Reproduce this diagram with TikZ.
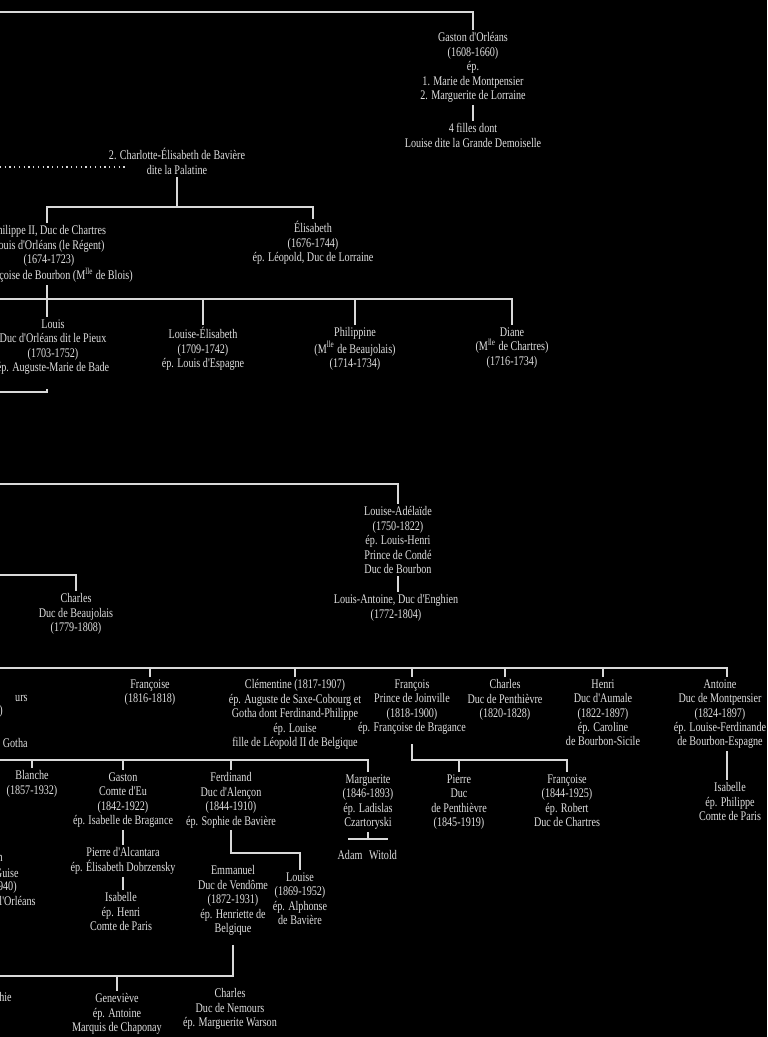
\documentclass[tikz,border=0pt]{standalone}
\usepackage{fontspec}
\newfontfamily\chartfont[FakeStretch=0.77]{Liberation Serif}

\begin{document}
\begin{tikzpicture}[x=0.02cm, y=-0.02cm,
    person/.style={anchor=north, align=center, inner sep=0pt, outer sep=1.5pt,
      text=white!88!black, font=\chartfont\fontsize{7.5}{8.2}\selectfont},
    frag/.style={anchor=east, inner sep=0pt, text=white!88!black,
      font=\chartfont\fontsize{7.5}{8.2}\selectfont},
    link/.style={draw=white!85!black, line width=0.85pt},
    wed/.style={draw=white!85!black, line width=0.7pt, dotted}]
  \useasboundingbox (0,0) rectangle (767,1037);
  \fill[black] (0,0) rectangle (767,1037);

  % Gaston
  \node[person] (gaston) at (473,30) {Gaston d'Orléans\\(1608-1660)\\ép.\\1. Marie de Montpensier\\2. Marguerite de Lorraine};
  \node[person] (filles) at (473,121) {4 filles dont\\Louise dite la Grande Demoiselle};

  % Charlotte-Elisabeth and her children
  \node[person] (charlotte) at (177,146) {2. Charlotte-Élisabeth de Bavière\\dite la Palatine};
  \node[person] (philippe) at (49,223) {\phantom{P}hilippe II, Duc de Chartres\\\phantom{p}ouis d'Orléans (le Régent)\\(1674-1723)\\\phantom{ép. Fran}çoise de Bourbon (M\textsuperscript{lle} de Blois)};
  \node[person] (elisabeth) at (313,219) {Élisabeth\\(1676-1744)\\ép. Léopold, Duc de Lorraine};

  % children of the Regent
  \node[person] (louis) at (53,317) {Louis\\Duc d'Orléans dit le Pieux\\(1703-1752)\\ép. Auguste-Marie de Bade};
  \node[person] (louiseelis) at (203,325) {Louise-Élisabeth\\(1709-1742)\\ép. Louis d'Espagne};
  \node[person] (philippine) at (355,325) {Philippine\\(M\textsuperscript{lle} de Beaujolais)\\(1714-1734)};
  \node[person] (diane) at (512,325) {Diane\\(M\textsuperscript{lle} de Chartres)\\(1716-1734)};

  % Louise-Adelaide, Charles
  \node[person] (louiseadel) at (398,504) {Louise-Adélaïde\\(1750-1822)\\ép. Louis-Henri\\Prince de Condé\\Duc de Bourbon};
  \node[person] (enghien) at (396,592) {Louis-Antoine, Duc d'Enghien\\(1772-1804)};
  \node[person] (charlesb) at (76,591) {Charles\\Duc de Beaujolais\\(1779-1808)};

  % children of Louis-Philippe
  \node[frag] (nemours1) at (28,698) {urs};
  \node[frag] (nemours2) at (3,711) {)};
  \node[frag] (nemours3) at (28,743) {t Gotha};
  \node[person] (francoise1) at (150,677) {Françoise\\(1816-1818)};
  \node[person] (clementine) at (295,677) {Clémentine (1817-1907)\\ép. Auguste de Saxe-Cobourg et\\Gotha dont Ferdinand-Philippe\\ép. Louise\\fille de Léopold II de Belgique};
  \node[person] (francois) at (412,677) {François\\Prince de Joinville\\(1818-1900)\\ép. Françoise de Bragance};
  \node[person] (charlesp) at (505,677) {Charles\\Duc de Penthièvre\\(1820-1828)};
  \node[person] (henri) at (603,677) {Henri\\Duc d'Aumale\\(1822-1897)\\ép. Caroline\\de Bourbon-Sicile};
  \node[person] (antoine) at (720,677) {Antoine\\Duc de Montpensier\\(1824-1897)\\ép. Louise-Ferdinande\\de Bourbon-Espagne};

  % grandchildren
  \node[person] (blanche) at (32,768) {Blanche\\(1857-1932)};
  \node[person] (gastoneu) at (123,770) {Gaston\\Comte d'Eu\\(1842-1922)\\ép. Isabelle de Bragance};
  \node[person] (pierrea) at (123,845) {Pierre d'Alcantara\\ép. Élisabeth Dobrzensky};
  \node[person] (isabelleh) at (121,890) {Isabelle\\ép. Henri\\Comte de Paris};
  \node[person] (ferdinand) at (231,770) {Ferdinand\\Duc d'Alençon\\(1844-1910)\\ép. Sophie de Bavière};
  \node[person] (emmanuel) at (233,863) {Emmanuel\\Duc de Vendôme\\(1872-1931)\\ép. Henriette de\\Belgique};
  \node[person] (louiseb) at (300,870) {Louise\\(1869-1952)\\ép. Alphonse\\de Bavière};
  \node[person] (marguerite) at (368,772) {Marguerite\\(1846-1893)\\ép. Ladislas\\Czartoryski};
  \node[person] (adam) at (350,848) {Adam};
  \node[person] (witold) at (383,848) {Witold};
  \node[person] (pierrep) at (459,772) {Pierre\\Duc\\de Penthièvre\\(1845-1919)};
  \node[person] (francoise2) at (567,772) {Françoise\\(1844-1925)\\ép. Robert\\Duc de Chartres};
  \node[person] (isabellep) at (730,780) {Isabelle\\ép. Philippe\\Comte de Paris};
  \node[frag] (guise1) at (3,858) {n};
  \node[frag] (guise2) at (19,873) {Guise};
  \node[frag] (guise3) at (17,887) {940)};
  \node[frag] (guise4) at (36,901) {l'Orléans};
  \node[frag] (sophie) at (12,997) {hie};
  \node[person] (genevieve) at (117,991) {Geneviève\\ép. Antoine\\Marquis de Chaponay};
  \node[person] (charlesn) at (230,986) {Charles\\Duc de Nemours\\ép. Marguerite Warson};

  % bus lines
  \coordinate (top) at (0,12);
  \coordinate (wed0) at (0,167);
  \coordinate (wed1) at (125,167);
  \coordinate (bus1) at (177,207);
  \coordinate (regent) at (47,0);
  \coordinate (bus2) at (0,299);
  \coordinate (louisleft) at (0,392);
  \coordinate (bus5) at (0,484);
  \coordinate (bus5b) at (0,575);
  \coordinate (bus6) at (0,668);
  \coordinate (montp) at (727,0);
  \coordinate (bus7) at (0,760);
  \coordinate (busf) at (412,760);
  \coordinate (ferdk) at (231,853);
  \coordinate (wife0) at (348,839);
  \coordinate (wife1) at (388,839);
  \coordinate (bus8) at (0,976);

  \draw[link] (top) -| (gaston.north);
  \draw[link] (gaston.south) -- (filles.north);
  \draw[wed] (wed0) -- (wed1);
  \draw[link] (charlotte.south) -- (bus1);
  \draw[link] (regent |- philippe.north) -- (regent |- bus1) -| (elisabeth.north);
  \draw[link] (regent |- philippe.south) -- (regent |- louis.north);
  \draw[link] (bus2) -| (diane.north);
  \foreach \n in {louiseelis, philippine}
    \draw[link] (\n.north) -- (\n.north |- bus2);
  \draw[link, shorten <=7pt] (regent |- louis.south) |- (louisleft);
  \draw[link] (bus5) -| (louiseadel.north);
  \draw[link] (louiseadel.south) -- (louiseadel.south |- enghien.north);
  \draw[link] (bus5b) -| (charlesb.north);
  \draw[link] (bus6) -| (montp |- antoine.north);
  \foreach \n in {francoise1, clementine, francois, charlesp, henri}
    \draw[link] (\n.north) -- (\n.north |- bus6);
  \draw[link] (bus7) -| (marguerite.north);
  \foreach \n in {blanche, gastoneu, ferdinand}
    \draw[link] (\n.north) -- (\n.north |- bus7);
  \draw[link] (gastoneu.south) -- (pierrea.north);
  \draw[link] (pierrea.south) -- (pierrea.south |- isabelleh.north);
  \draw[link] (ferdinand.south) -- (ferdk) -| (louiseb.north);
  \draw[link, shorten <=4pt] (emmanuel.south) |- (bus8);
  \draw[link] (genevieve.north) -- (genevieve.north |- bus8);
  \draw[link] (marguerite.south) -- (marguerite.south |- wife0);
  \draw[link] (wife0) -- (wife1);
  \draw[link, shorten <=4pt] (francois.south) |- (busf) -| (francoise2.north);
  \draw[link] (pierrep.north) -- (pierrep.north |- busf);
  \draw[link] (montp |- antoine.south) -- (montp |- isabellep.north);
\end{tikzpicture}
\end{document}
